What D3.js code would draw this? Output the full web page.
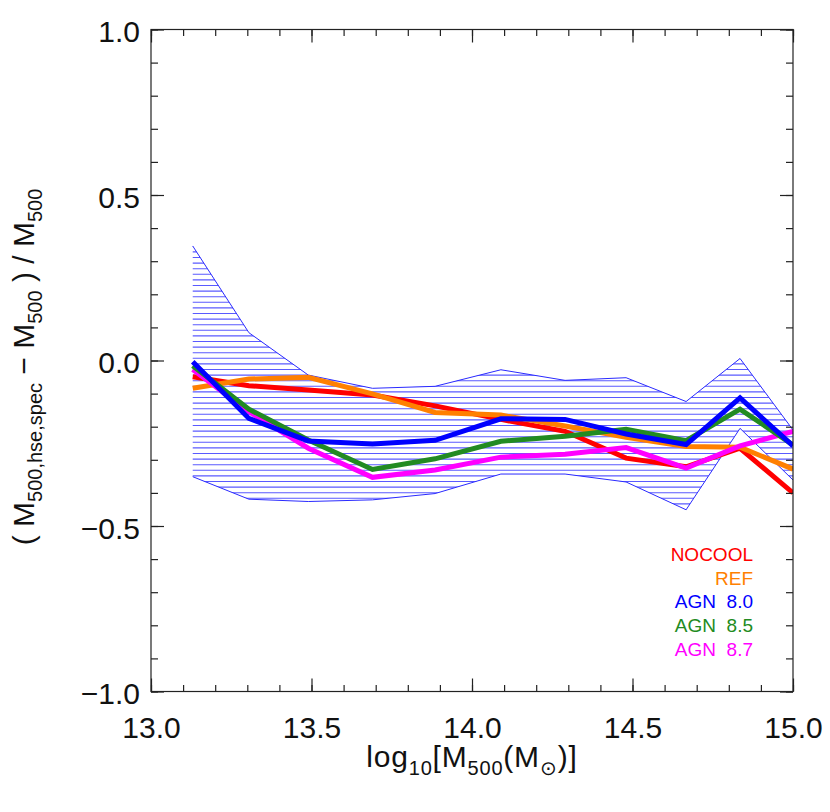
<!DOCTYPE html>
<html><head><meta charset="utf-8">
<script src="https://cdn.jsdelivr.net/npm/d3@7"></script>
<style>
body{margin:0;background:#fff}
text{font-family:"Liberation Sans",Arial,sans-serif}
</style>
</head><body><svg id="c" width="830" height="812"></svg>
<script>
// ---- data ----
const massBins = [13.13, 13.305, 13.49, 13.69, 13.885, 14.09, 14.29, 14.48, 14.667, 14.835, 15.0];
const nocool  = [-0.049, -0.076, -0.089, -0.104, -0.137, -0.178, -0.214, -0.295, -0.321, -0.265, -0.400];
const ref     = [-0.084, -0.056, -0.051, -0.101, -0.157, -0.165, -0.198, -0.232, -0.260, -0.262, -0.328];
const agn80   = [-0.004, -0.175, -0.243, -0.252, -0.241, -0.176, -0.178, -0.222, -0.254, -0.113, -0.258];
const agn85   = [-0.016, -0.147, -0.240, -0.329, -0.297, -0.244, -0.229, -0.208, -0.242, -0.147, -0.255];
const agn87   = [-0.027, -0.155, -0.265, -0.353, -0.331, -0.292, -0.283, -0.263, -0.325, -0.258, -0.214];
const bandUpper = [0.346, 0.084, -0.044, -0.084, -0.078, -0.028, -0.060, -0.052, -0.124, 0.006, -0.210];
const bandLower = [-0.351, -0.419, -0.426, -0.421, -0.402, -0.343, -0.343, -0.367, -0.451, -0.205, -0.361];
const seriesNames = ["NOCOOL", "REF", "AGN  8.0", "AGN  8.5", "AGN  8.7"];
const seriesColors = ["#ff0000", "#ff8000", "#0000ff", "#228b22", "#ff00ff"];
const seriesValues = [nocool, ref, agn80, agn85, agn87];
const drawOrder = [0, 1, 4, 3, 2];
const xTicks = [13.0, 13.5, 14.0, 14.5, 15.0];
const xTickLabels = ["13.0", "13.5", "14.0", "14.5", "15.0"];
const yTicks = [-1.0, -0.5, 0.0, 0.5, 1.0];
const yTickLabels = ["\u22121.0", "\u22120.5", "0.0", "0.5", "1.0"];

// ---- layout ----
const P = {left:151, right:793, top:29.5, bottom:691.5};
const svg = d3.select("#c");
svg.append("rect").attr("width",830).attr("height",812).attr("fill","#fff");
const x = d3.scaleLinear().domain([13,15]).range([P.left, P.right]);
const y = d3.scaleLinear().domain([-1,1]).range([P.bottom, P.top]);

svg.append("clipPath").attr("id","plotclip").append("rect")
  .attr("x",P.left).attr("y",P.top).attr("width",P.right-P.left).attr("height",P.bottom-P.top);

// band hatch
const bandData = massBins.map((m,i)=>({m, lo:bandLower[i], hi:bandUpper[i]}));
const area = d3.area().x(d=>x(d.m)).y0(d=>y(d.lo)).y1(d=>y(d.hi));
svg.append("clipPath").attr("id","bandclip").append("path").attr("d", area(bandData));
const hatchG = svg.append("g").attr("clip-path","url(#plotclip)").append("g").attr("clip-path","url(#bandclip)");
const hatchStep = 5.6;
const hatchYs = d3.range(386.3 - hatchStep*70, P.bottom, hatchStep).filter(v=>v>P.top);
hatchG.selectAll("line").data(hatchYs).join("line")
  .attr("x1",P.left).attr("x2",P.right).attr("y1",d=>d).attr("y2",d=>d)
  .attr("stroke","#5a5aff").attr("stroke-width",1.1);

const plotG = svg.append("g").attr("clip-path","url(#plotclip)");
const thin = d3.line().x((d,i)=>x(massBins[i])).y(d=>y(d));
[bandUpper, bandLower].forEach(arr=>{
  plotG.append("path").attr("d", thin(arr)).attr("fill","none").attr("stroke","#2a2aff").attr("stroke-width",1);
});
drawOrder.forEach(k=>{
  plotG.append("path").attr("d", thin(seriesValues[k])).attr("fill","none")
    .attr("stroke", seriesColors[k]).attr("stroke-width",5).attr("stroke-linejoin","miter");
});

// ---- axes ----
const axColor = "#222";
const minorX = d3.range(13, 15.0001, 0.1).map(v=>+v.toFixed(2));
const minorY = d3.range(-1, 1.0001, 0.1).map(v=>+v.toFixed(2));
function styleAxis(g){ g.select(".domain").remove(); g.selectAll("line").attr("stroke",axColor).attr("stroke-width",1.2); }
// bottom
svg.append("g").attr("transform",`translate(0,${P.bottom})`)
  .call(d3.axisBottom(x).tickValues(minorX).tickSize(-6.5).tickFormat("")).call(styleAxis);
const bx = svg.append("g").attr("transform",`translate(0,${P.bottom})`)
  .call(d3.axisBottom(x).tickValues(xTicks).tickSize(-13).tickPadding(25).tickFormat((d,i)=>xTickLabels[i])).call(styleAxis);
bx.selectAll("text").attr("font-size",30).attr("fill","#111").attr("font-family","Liberation Sans, Arial, sans-serif");
// top
svg.append("g").attr("transform",`translate(0,${P.top})`)
  .call(d3.axisTop(x).tickValues(minorX).tickSize(-6.5).tickFormat("")).call(styleAxis);
svg.append("g").attr("transform",`translate(0,${P.top})`)
  .call(d3.axisTop(x).tickValues(xTicks).tickSize(-13).tickFormat("")).call(styleAxis);
// left
svg.append("g").attr("transform",`translate(${P.left},0)`)
  .call(d3.axisLeft(y).tickValues(minorY).tickSize(-7).tickFormat("")).call(styleAxis);
const ly = svg.append("g").attr("transform",`translate(${P.left},0)`)
  .call(d3.axisLeft(y).tickValues(yTicks).tickSize(-13).tickPadding(11).tickFormat((d,i)=>yTickLabels[i])).call(styleAxis);
ly.selectAll("text").attr("font-size",30).attr("fill","#111").attr("font-family","Liberation Sans, Arial, sans-serif").attr("dy","0.4em");
// right
svg.append("g").attr("transform",`translate(${P.right},0)`)
  .call(d3.axisRight(y).tickValues(minorY).tickSize(-7).tickFormat("")).call(styleAxis);
svg.append("g").attr("transform",`translate(${P.right},0)`)
  .call(d3.axisRight(y).tickValues(yTicks).tickSize(-13).tickFormat("")).call(styleAxis);
// frame
svg.append("rect").attr("x",P.left).attr("y",P.top).attr("width",P.right-P.left).attr("height",P.bottom-P.top)
  .attr("fill","none").attr("stroke",axColor).attr("stroke-width",1.2);

// ---- titles ----
function richText(sel, parts, mainSize, subSize, shift){
  let state = 0;
  parts.forEach(([t, sub])=>{
    const target = sub ? shift : 0;
    sel.append("tspan").attr("dy", target - state).attr("font-size", sub?subSize:mainSize).text(t);
    state = target;
  });
}
const xt = svg.append("text").attr("x",(P.left+P.right)/2).attr("y",767).attr("text-anchor","middle")
  .style("fill","#111").style("letter-spacing","0.8px").style("white-space","pre");
richText(xt, [["log",0],["10",1],["[M",0],["500",1],["(M",0],["\u2299",1],[")]",0]], 30, 20, 8);

const yt = svg.append("text").attr("transform","translate(33.5,367) rotate(-90)").attr("text-anchor","middle")
  .style("fill","#111").style("white-space","pre");
richText(yt, [["( M",0],["500,hse,spec",1],[" \u2212 M",0],["500",1],[" ) / M",0],["500",1]], 30, 20, 8);

// ---- legend ----
const leg = svg.append("g");
leg.selectAll("text").data(seriesNames).join("text")
  .attr("x",753).attr("y",(d,i)=>561 + i*23.7).attr("text-anchor","end")
  .attr("font-size",19).style("fill",(d,i)=>seriesColors[i]).style("white-space","pre")
  .text(d=>d);
</script></body></html>
